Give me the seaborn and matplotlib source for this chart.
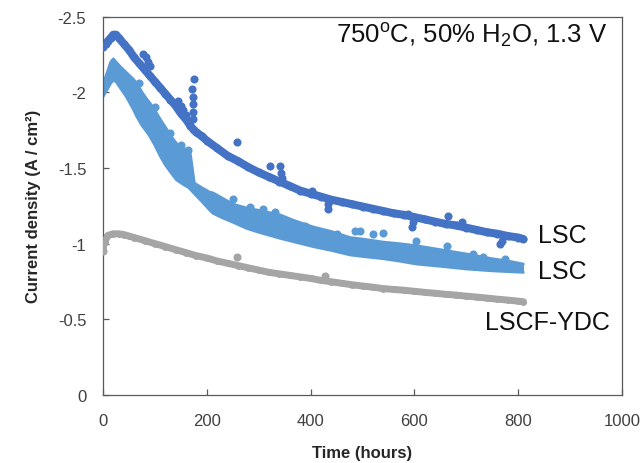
import matplotlib
matplotlib.use("Agg")
import matplotlib.pyplot as plt
import seaborn as sns
import pandas as pd

# ---------------- data ----------------
# LSC (dark blue)
lsc1_t = [0, 5, 10, 15, 20, 25, 30, 40, 50, 60, 70, 80, 90, 100, 110, 120, 130, 140, 150, 160,
          168, 175, 180, 190, 200, 220, 240, 260, 280, 300, 320, 340, 360, 380, 400, 420, 440,
          460, 480, 500, 520, 540, 560, 580, 600, 620, 640, 660, 680, 700, 720, 740, 760, 780,
          800, 810]
lsc1_j = [-2.30, -2.32, -2.34, -2.36, -2.38, -2.38, -2.36, -2.32, -2.28, -2.23, -2.19, -2.15,
          -2.11, -2.07, -2.03, -1.99, -1.95, -1.91, -1.86, -1.82, -1.78, -1.75, -1.735, -1.71,
          -1.68, -1.63, -1.58, -1.545, -1.505, -1.47, -1.44, -1.41, -1.38, -1.35, -1.33, -1.31,
          -1.29, -1.275, -1.26, -1.245, -1.23, -1.215, -1.20, -1.19, -1.175, -1.16, -1.145,
          -1.13, -1.12, -1.105, -1.09, -1.075, -1.065, -1.05, -1.04, -1.03]
lsc1_out_t = [78, 82, 87, 90, 145, 150, 155, 160, 172, 173, 174, 174, 174, 175, 258, 322, 342,
              343, 344, 402, 434, 434, 588, 595, 598, 665, 691, 765, 768]
lsc1_out_j = [-2.25, -2.23, -2.20, -2.17, -1.94, -1.91, -1.88, -1.85, -2.02, -1.97, -1.92,
              -1.87, -1.82, -2.09, -1.67, -1.515, -1.51, -1.465, -1.43, -1.35, -1.23, -1.26,
              -1.195, -1.11, -1.14, -1.18, -1.14, -0.997, -1.02]

# LSC (light blue): band between upper and lower envelope of the scattered points
lsc2_t = [0, 5, 10, 15, 20, 25, 33, 45, 58, 65, 75, 84, 90, 100, 110, 120, 135, 142, 155, 165,
          168, 172, 176, 190, 206, 212, 230, 251, 277, 300, 341, 370, 405, 440, 476, 500, 540,
          570, 604, 650, 701, 750, 780, 810]
lsc2_hi = [-2.05, -2.10, -2.15, -2.20, -2.22, -2.20, -2.17, -2.13, -2.087, -2.06, -2.00, -1.956,
           -1.93, -1.88, -1.823, -1.77, -1.691, -1.66, -1.63, -1.61, -1.60, -1.50, -1.40, -1.37,
           -1.339, -1.335, -1.30, -1.26, -1.235, -1.22, -1.19, -1.15, -1.11, -1.08, -1.04,
           -1.03, -1.01, -1.00, -0.986, -0.96, -0.931, -0.90, -0.885, -0.865]
lsc2_lo = [-1.97, -2.00, -2.03, -2.06, -2.08, -2.07, -2.03, -1.97, -1.89, -1.84, -1.78, -1.74,
           -1.71, -1.65, -1.58, -1.52, -1.45, -1.42, -1.39, -1.37, -1.36, -1.345, -1.33, -1.28,
           -1.22, -1.20, -1.17, -1.14, -1.10, -1.075, -1.035, -1.01, -0.98, -0.955, -0.925,
           -0.915, -0.90, -0.885, -0.865, -0.85, -0.832, -0.82, -0.815, -0.81]
lsc2_out_t = [70, 100, 130, 150, 164, 251, 283, 309, 331, 389, 412, 450, 486, 495, 521, 540,
              604, 662, 713, 733, 775]
lsc2_out_j = [-2.06, -1.90, -1.73, -1.65, -1.62, -1.295, -1.24, -1.23, -1.207, -1.114, -1.085,
              -1.063, -1.085, -1.085, -1.063, -1.068, -1.02, -0.986, -0.93, -0.91, -0.898]

# LSCF-YDC (grey)
lscf_t = [0, 3, 6, 10, 20, 30, 40, 50, 60, 80, 100, 120, 140, 160, 180, 200, 220, 240, 260, 280,
          300, 320, 340, 360, 380, 400, 420, 440, 460, 480, 500, 520, 540, 560, 580, 600, 620,
          640, 660, 680, 700, 720, 740, 760, 780, 800, 810]
lscf_j = [-0.97, -1.01, -1.04, -1.055, -1.065, -1.065, -1.06, -1.05, -1.04, -1.02, -1.00, -0.98,
          -0.96, -0.94, -0.92, -0.905, -0.885, -0.87, -0.855, -0.84, -0.825, -0.81, -0.80, -0.79,
          -0.78, -0.77, -0.757, -0.748, -0.738, -0.728, -0.72, -0.712, -0.703, -0.697, -0.692,
          -0.685, -0.678, -0.672, -0.665, -0.66, -0.653, -0.647, -0.64, -0.633, -0.627, -0.62,
          -0.616]
lscf_out_t = [0, 258, 428]
lscf_out_j = [-0.95, -0.91, -0.788]

series_names = ["LSC", "LSC", "LSCF-YDC"]
series_colors = ["#4472C4", "#5B9BD5", "#A5A5A5"]
x_ticks = [0, 200, 400, 600, 800, 1000]
y_ticks = [0, -0.5, -1, -1.5, -2, -2.5]
y_tick_labels = ["0", "-0.5", "-1", "-1.5", "-2", "-2.5"]

# ---------------- style ----------------
sns.set_style("ticks")
plt.rcParams["font.family"] = ["Liberation Sans", "DejaVu Sans"]
plt.rcParams["mathtext.fontset"] = "custom"
plt.rcParams["mathtext.rm"] = "Liberation Sans"
plt.rcParams["mathtext.it"] = "Liberation Sans:italic"
plt.rcParams["mathtext.bf"] = "Liberation Sans:bold"

fig = plt.figure(figsize=(6.44, 4.64), dpi=100)
W, H = 644, 464
ax = fig.add_axes([103 / W, 1 - 396 / H, 519 / W, 378.5 / H])

c1, c2, c3 = series_colors


def draw_line(t, j, col, lw, dots=True):
    df = pd.DataFrame({"t": t, "j": j})
    sns.lineplot(data=df, x="t", y="j", ax=ax, color=col, linewidth=lw, sort=False,
                 estimator=None, solid_capstyle="round", solid_joinstyle="round")
    if dots:
        sns.scatterplot(data=df, x="t", y="j", ax=ax, color=col, s=lw ** 2, linewidth=0,
                        zorder=3)


def draw_points(t, j, col, s=34):
    dfo = pd.DataFrame({"t": t, "j": j})
    sns.scatterplot(data=dfo, x="t", y="j", ax=ax, color=col, s=s, linewidth=0, zorder=3)


# light blue band: solid fill between the two envelopes, with rounded edge strokes
ax.fill_between(lsc2_t, lsc2_hi, lsc2_lo, facecolor=c2, edgecolor="none", linewidth=0,
                antialiased=False, zorder=2)
draw_line(lsc2_t, lsc2_hi, c2, 2.0, dots=False)
draw_line(lsc2_t, lsc2_lo, c2, 2.0, dots=False)
draw_points(lsc2_out_t, lsc2_out_j, c2)

draw_line(lsc1_t, lsc1_j, c1, 5.8)
draw_points(lsc1_out_t, lsc1_out_j, c1)

draw_line(lscf_t, lscf_j, c3, 5.0)
draw_points(lscf_out_t, lscf_out_j, c3)

ax.set_xlim(0, 1000)
ax.set_ylim(0, -2.5)
ax.set_xticks(x_ticks)
ax.set_yticks(y_ticks)
ax.set_yticklabels(y_tick_labels)

spine_col = "#595959"
for s in ax.spines.values():
    s.set_visible(True)
    s.set_color(spine_col)
    s.set_linewidth(0.9)
ax.tick_params(axis="both", direction="in", length=4.5, width=0.9, color=spine_col,
               labelsize=12, labelcolor="#404040")
ax.tick_params(axis="y", pad=12)
ax.tick_params(axis="x", pad=13)

ax.set_xlabel("Time (hours)", fontsize=12, fontweight="bold", color="#262626", labelpad=12)
ax.set_ylabel("Current density (A / cm²)", fontsize=12, fontweight="bold", color="#262626",
              labelpad=12)

# series labels
label_pos = [(838, -1.057), (838, -0.82), (736, -0.48)]
for name, (lx, ly) in zip(series_names, label_pos):
    ax.text(lx, ly, name, fontsize=18, color="#111111", ha="left", va="center")

ax.text(971, -2.38, "750$^{\\mathrm{o}}$C, 50% H$_2$O, 1.3 V", fontsize=18.5, color="#111111",
        ha="right", va="center")

fig.savefig("out.png", dpi=100)
